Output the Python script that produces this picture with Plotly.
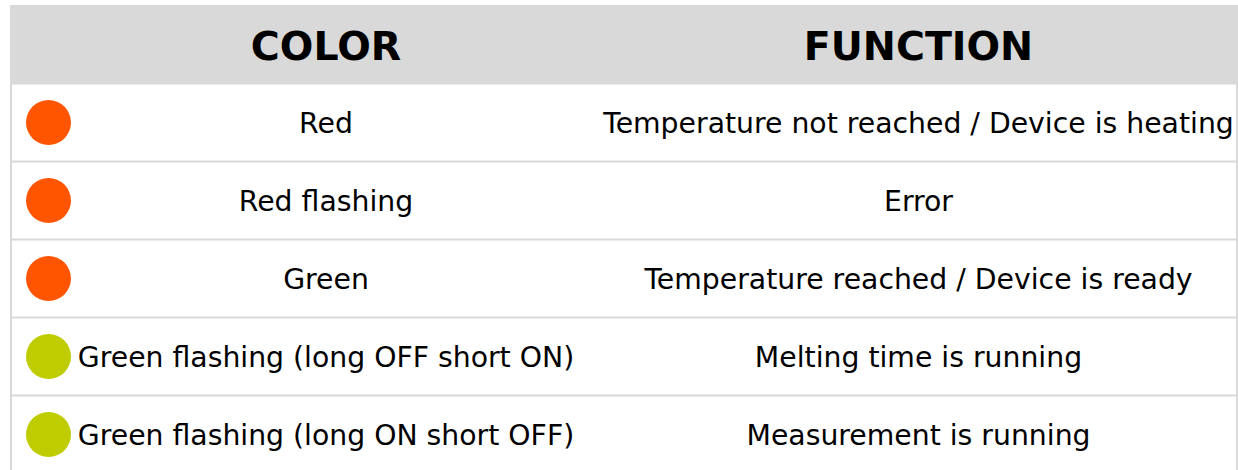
import plotly.graph_objects as go

# ---- data ----
headers = ["COLOR", "FUNCTION"]
color_labels = [
    "Red",
    "Red flashing",
    "Green",
    "Green flashing (long OFF short ON)",
    "Green flashing (long ON short OFF)",
]
functions = [
    "Temperature not reached / Device is heating",
    "Error",
    "Temperature reached / Device is ready",
    "Melting time is running",
    "Measurement is running",
]
led_colors = ["#FF5500", "#FF5500", "#FF5500", "#BFCC00", "#BFCC00"]

# ---- layout constants (pixels on x, row units on y) ----
W, H = 1238, 470
ROW_PX = 78
ROW0_CENTER = 122.5
COL1_X = 326
COL2_X = 918.5
DOT_X = 48.5
GRID = "#d9d9d9"
TEXT_DY = 0.045      # small downward nudge for text baseline
HEADER_Y = -0.925

rows = list(range(len(color_labels)))
y_top = (0 - ROW0_CENTER) / ROW_PX
y_bot = (H - ROW0_CENTER) / ROW_PX

fig = go.Figure()

# header band
fig.add_shape(type="rect", xref="x", yref="y", x0=10, x1=1238, y0=-1.506, y1=-0.5,
              fillcolor="#d9d9d9", line_width=0, layer="below")
# row separators
for r in rows:
    yb = r - 0.5
    fig.add_shape(type="line", xref="x", yref="y", x0=10, x1=1238, y0=yb, y1=yb,
                  line=dict(color=GRID, width=2), layer="below")
# left / right borders
fig.add_shape(type="line", xref="x", yref="y", x0=11, x1=11, y0=-1.506, y1=y_bot,
              line=dict(color=GRID, width=2), layer="below")
fig.add_shape(type="line", xref="x", yref="y", x0=1237, x1=1237, y0=-0.5, y1=y_bot,
              line=dict(color=GRID, width=2), layer="below")

# header text
fig.add_trace(go.Scatter(
    x=[COL1_X, COL2_X], y=[HEADER_Y, HEADER_Y], mode="text", text=headers,
    textposition="middle center",
    textfont=dict(family="DejaVu Sans", size=39.5, color="#000000", weight="bold"),
    hoverinfo="skip", showlegend=False))

# LED dots
fig.add_trace(go.Scatter(
    x=[DOT_X] * len(rows), y=rows, mode="markers",
    marker=dict(size=45, color=led_colors, line=dict(width=0)),
    hoverinfo="skip", showlegend=False))

# color labels
fig.add_trace(go.Scatter(
    x=[COL1_X] * len(rows), y=[r + TEXT_DY for r in rows], mode="text", text=color_labels,
    textposition="middle center",
    textfont=dict(family="DejaVu Sans", size=28.3, color="#000000"),
    hoverinfo="skip", showlegend=False))

# function labels
fig.add_trace(go.Scatter(
    x=[COL2_X] * len(rows), y=[r + TEXT_DY for r in rows], mode="text", text=functions,
    textposition="middle center",
    textfont=dict(family="DejaVu Sans", size=28.3, color="#000000"),
    hoverinfo="skip", showlegend=False))

fig.update_layout(
    width=W, height=H,
    margin=dict(l=0, r=0, t=0, b=0),
    paper_bgcolor="white", plot_bgcolor="white",
    xaxis=dict(range=[0, W], visible=False, fixedrange=True),
    yaxis=dict(range=[y_bot, y_top], visible=False, fixedrange=True),
    showlegend=False,
)

fig.write_html("out.html", config={"displayModeBar": False},
               post_script="document.body.style.margin='0';document.body.style.overflow='hidden';")
